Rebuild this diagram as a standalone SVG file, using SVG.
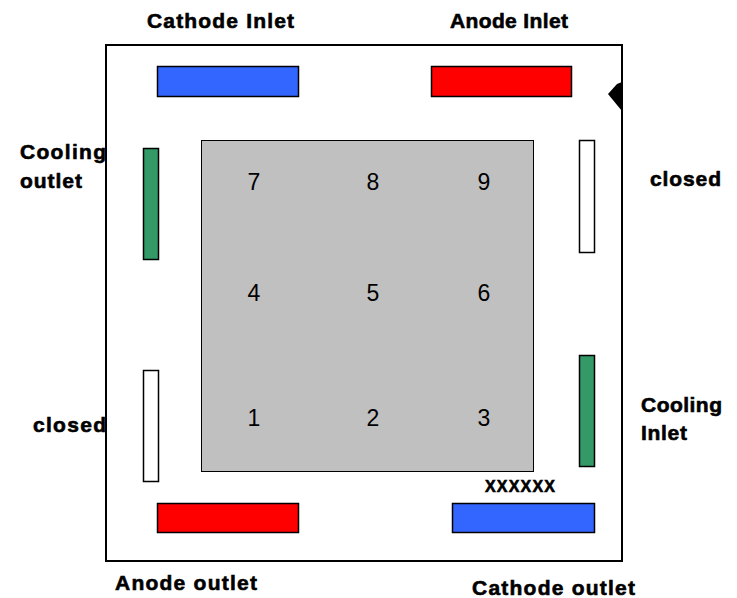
<svg xmlns="http://www.w3.org/2000/svg" width="737" height="598" viewBox="0 0 737 598">
<style>
.lbl{font-family:"Liberation Sans",Arial,sans-serif;font-weight:bold;font-size:21px;fill:#000;stroke:#000;stroke-width:0.6}
.num{font-family:"Liberation Sans",Arial,sans-serif;font-size:23px;fill:#000;text-anchor:middle}
.port{stroke:#000;stroke-width:1.5}
</style>
<rect width="737" height="598" fill="#fff"/>
<g id="frame">
<rect x="106" y="45" width="516" height="516" fill="#fff" stroke="#000" stroke-width="2"/>
<polygon points="622,82 617,84 608,94 617,105 622,111" fill="#000"/>
</g>
<g id="cell">
<rect x="201.5" y="140.5" width="332" height="331" fill="#c0c0c0" stroke="#000" stroke-width="1"/>
<text class="num" x="254" y="190">7</text>
<text class="num" x="373" y="190">8</text>
<text class="num" x="484" y="190">9</text>
<text class="num" x="254" y="301">4</text>
<text class="num" x="373" y="301">5</text>
<text class="num" x="484" y="301">6</text>
<text class="num" x="254" y="426">1</text>
<text class="num" x="373" y="426">2</text>
<text class="num" x="484" y="426">3</text>
</g>
<g id="cathode-inlet">
<rect class="port" x="157.5" y="66.5" width="141" height="30" fill="#3366ff"/>
<text class="lbl" x="147" y="28" textLength="147" lengthAdjust="spacing">Cathode Inlet</text>
</g>
<g id="anode-inlet">
<rect class="port" x="431.5" y="66.5" width="140" height="30" fill="#ff0000"/>
<text class="lbl" x="450" y="28" textLength="118" lengthAdjust="spacing">Anode Inlet</text>
</g>
<g id="cooling-outlet">
<rect class="port" x="143.5" y="148.5" width="15" height="111" fill="#339966"/>
<text class="lbl" x="20" y="159" textLength="86" lengthAdjust="spacing">Cooling</text>
<text class="lbl" x="20" y="188" textLength="62" lengthAdjust="spacing">outlet</text>
</g>
<g id="closed-right">
<rect class="port" x="579.5" y="140.5" width="15" height="112" fill="#fff"/>
<text class="lbl" x="650" y="186" textLength="71" lengthAdjust="spacing">closed</text>
</g>
<g id="closed-left">
<rect class="port" x="143.5" y="370.5" width="15" height="111" fill="#fff"/>
<text class="lbl" x="33" y="432" textLength="73" lengthAdjust="spacing">closed</text>
</g>
<g id="cooling-inlet">
<rect class="port" x="579.5" y="355.5" width="15" height="111" fill="#339966"/>
<text class="lbl" x="641" y="412" textLength="81" lengthAdjust="spacing">Cooling</text>
<text class="lbl" x="641" y="440" textLength="46" lengthAdjust="spacing">Inlet</text>
</g>
<g id="anode-outlet">
<rect class="port" x="157.5" y="503.5" width="141" height="29" fill="#ff0000"/>
<text class="lbl" x="115" y="590" textLength="142" lengthAdjust="spacing">Anode outlet</text>
</g>
<g id="cathode-outlet">
<rect class="port" x="452.5" y="503.5" width="142" height="29" fill="#3366ff"/>
<text class="lbl" x="485" y="492" style="font-size:16px" textLength="70" lengthAdjust="spacing">XXXXXX</text>
<text class="lbl" x="472" y="595" textLength="163" lengthAdjust="spacing">Cathode outlet</text>
</g>
<g id="connectors"></g>
</svg>
